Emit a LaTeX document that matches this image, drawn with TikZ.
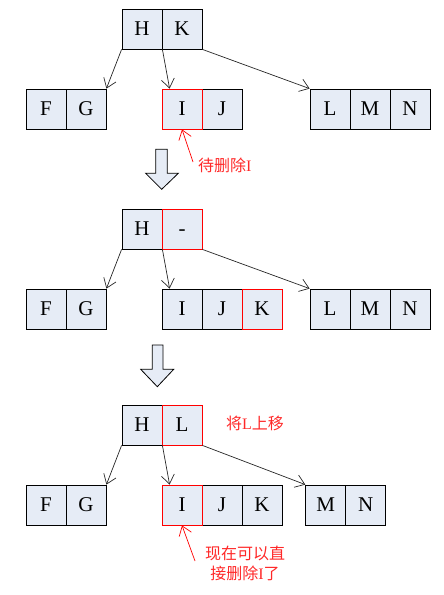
\documentclass[tikz,border=0pt]{standalone}
\usepackage{fontspec}
\setmainfont{Liberation Serif}
\newfontfamily\cjk{Noto Sans CJK SC}
\usetikzlibrary{arrows.meta,calc}
\definecolor{cellfill}{RGB}{230,236,246}
\definecolor{txtred}{RGB}{255,40,40}
\tikzset{
  cell/.style={draw=black, fill=cellfill, minimum width=40pt, minimum height=40pt,
    inner sep=0pt, line width=0.8pt, font=\fontsize{21}{21}\selectfont},
  redcell/.style={cell, draw=red},
  link/.style={draw=black!85, line width=0.7pt, -{Straight Barb[length=9pt,width=13pt]}},
  redlink/.style={draw=red, line width=0.7pt, -{Straight Barb[length=9pt,width=13pt]}},
  note/.style={text=txtred, inner sep=0pt, font=\fontsize{16}{20}\selectfont},
  bigarrow/.style={draw=black, fill=cellfill, line width=0.8pt}
}
\begin{document}
\begin{tikzpicture}[x=1pt,y=-1pt]
\useasboundingbox (0,0) rectangle (444,595);

% ---------- Stage 1 ----------
\node[cell] (aH) at (142,29) {H};
\node[cell] (aK) at (182,29) {K};
\node[cell] (aF) at (46,109) {F};
\node[cell] (aG) at (86,109) {G};
\node[cell] (aJ) at (222,109) {J};
\node[redcell] (aI) at (182,109) {I};
\node[cell] (aL) at (330,109) {L};
\node[cell] (aM) at (370,109) {M};
\node[cell] (aN) at (410,109) {N};
\draw[link] (aH.south west) -- (aG.north east);
\draw[link] (aH.south east) -- ($(aI.north west)+(8,0)$);
\draw[link] (aK.south east) -- (aL.north west);
\coordinate (an) at (193,162);
\draw[redlink] (an) -- (aI.south);
\node[note, anchor=west] (at) at (198,165) {{\cjk 待删除}I};
\draw[bigarrow] (155.7,149.3) -- (167.3,149.3) -- (167.3,173.3) -- (178.3,173.3)
  -- (161.7,189.3) -- (145.7,173.3) -- (155.7,173.3) -- cycle;

% ---------- Stage 2 ----------
\node[cell] (bH) at (142,229) {H};
\node[redcell] (bD) at (182,229) {\vphantom{H}-};
\node[cell] (bF) at (46,309) {F};
\node[cell] (bG) at (86,309) {G};
\node[cell] (bI) at (182,309) {I};
\node[cell] (bJ) at (222,309) {J};
\node[redcell] (bK) at (262,309) {K};
\node[cell] (bL) at (330,309) {L};
\node[cell] (bM) at (370,309) {M};
\node[cell] (bN) at (410,309) {N};
\draw[link] (bH.south west) -- (bG.north east);
\draw[link] (bH.south east) -- ($(bI.north west)+(8,0)$);
\draw[link] (bD.south east) -- (bL.north west);
\draw[bigarrow] (152.3,345) -- (163,345) -- (163,369.3) -- (173.7,369.3)
  -- (157.3,386.7) -- (140.7,369.3) -- (152.3,369.3) -- cycle;

% ---------- Stage 3 ----------
\node[cell] (cH) at (142,425) {H};
\node[redcell] (cL) at (182,425) {L};
\node[cell] (cF) at (46,505) {F};
\node[cell] (cG) at (86,505) {G};
\node[cell] (cJ) at (222,505) {J};
\node[cell] (cK) at (262,505) {K};
\node[redcell] (cI) at (182,505) {I};
\node[cell] (cM) at (325.7,505) {M};
\node[cell] (cN) at (365.7,505) {N};
\draw[link] (cH.south west) -- (cG.north east);
\draw[link] (cH.south east) -- ($(cI.north west)+(8,0)$);
\draw[link] (cL.south east) -- (cM.north west);
\node[note, anchor=west] (ct) at (226,423) {{\cjk 将}L{\cjk 上移}};
\coordinate (cn) at (195,561);
\draw[redlink] (cn) -- (cI.south);
\node[note, align=center] (cd) at (245,563) {{\cjk 现在可以直}\\{\cjk 接删除}I{\cjk 了}};
\end{tikzpicture}
\end{document}
